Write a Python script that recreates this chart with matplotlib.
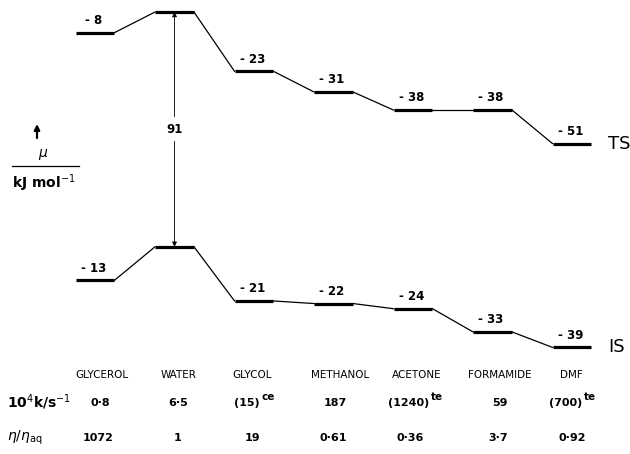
import matplotlib
matplotlib.use("Agg")
import matplotlib.pyplot as plt
import numpy as np

solvents = ["GLYCEROL", "WATER", "GLYCOL", "METHANOL", "ACETONE", "FORMAMIDE", "DMF"]
ts_values = [-8, 0, -23, -31, -38, -38, -51]      # kJ/mol relative to water TS
is_values = [-13, 0, -21, -22, -24, -33, -39]     # kJ/mol relative to water IS
is_offset = -91                                   # water IS below water TS
rate_labels = ["0·8", "6·5", "(15)^ce", "187", "(1240)^te", "59", "(700)^te"]
visc_labels = ["1072", "1", "19", "0·61", "0·36", "3·7", "0·92"]

W, H = 630, 454
fig = plt.figure(figsize=(W / 100, H / 100), dpi=100)
ax = fig.add_axes([0, 0, 1, 1])
ax.set_axis_off()

px_per_unit = 79.5
px_per_kj = 2.58
x0_px, y0_px = 95, 12
ax.set_xlim(-x0_px / px_per_unit, (W - x0_px) / px_per_unit)
ax.set_ylim(-(H - y0_px) / px_per_kj, y0_px / px_per_kj)

hw = 0.245
plt.rcParams["font.family"] = ["DejaVu Sans"]
plt.rcParams["mathtext.fontset"] = "dejavusans"


def draw_profile(vals, offset, label):
    xs = np.arange(len(vals))
    ys = np.array(vals, dtype=float) + offset
    for i, (x, y) in enumerate(zip(xs, ys)):
        ax.plot([x - hw, x + hw], [y, y], color="black", lw=2.3, solid_capstyle="butt")
        if i > 0:
            ax.plot([xs[i - 1] + hw, x - hw], [ys[i - 1], y], color="black", lw=0.9)
        if solvents[i] != "WATER":
            ax.annotate(f"- {abs(vals[i])}", (x, y), xytext=(-1, 4), textcoords="offset points",
                        ha="center", va="bottom", fontsize=8.5, fontweight="bold")
    ax.annotate(label, (xs[-1] + hw, ys[-1]), xytext=(12, 0), textcoords="offset points",
                ha="left", va="center", fontsize=13)


draw_profile(ts_values, 0, "TS")
draw_profile(is_values, is_offset, "IS")

# double arrow between water TS and IS
xw = solvents.index("WATER")
ax.annotate("", xy=(xw, is_offset + is_values[xw]), xytext=(xw, ts_values[xw]),
            arrowprops=dict(arrowstyle="<|-|>", lw=0.6, color="black", mutation_scale=7,
                            shrinkA=0, shrinkB=0))
ax.text(xw, (ts_values[xw] + is_offset + is_values[xw]) / 2, str(abs(is_offset)),
        ha="center", va="center", fontsize=8.5, fontweight="bold",
        bbox=dict(facecolor="white", edgecolor="none", pad=4))

tf = ax.transAxes
def fy(py):
    return 1 - py / H
def fx(px):
    return px / W

# left axis label
ax.annotate("", xy=(fx(37), fy(124)), xytext=(fx(37), fy(138)), xycoords=tf, textcoords=tf,
            arrowprops=dict(arrowstyle="-|>", lw=1.6, color="black", mutation_scale=8,
                            shrinkA=0, shrinkB=0))
ax.text(fx(43), fy(155), r"$\mu$", transform=tf, ha="center", va="center", fontsize=10)
ax.plot([fx(12), fx(79)], [fy(166), fy(166)], transform=tf, color="black", lw=0.9)
ax.text(fx(44), fy(183), r"kJ mol$^{-1}$", transform=tf, ha="center", va="center",
        fontsize=10, fontweight="bold")

xt = ax.get_xaxis_transform()
def col_x(i, px):
    return i + (px - (x0_px + i * px_per_unit)) / px_per_unit

def put(i, px, py, lab):
    if "^" in lab:
        base, sup = lab.split("^")
        t = ax.text(col_x(i, px - 6), fy(py), base, transform=xt, ha="center", va="center",
                    fontsize=8, fontweight="bold")
        ax.annotate(sup, xy=(1, 0.55), xycoords=t, xytext=(1, 0),
                    textcoords="offset points", ha="left", va="bottom", fontsize=7.5,
                    fontweight="bold")
    else:
        ax.text(col_x(i, px), fy(py), lab, transform=xt, ha="center", va="center",
                fontsize=8, fontweight="bold")

# table
name_x = [102, 179, 252, 340, 417, 500, 571]
for i, name in enumerate(solvents):
    ax.text(col_x(i, name_x[i]), fy(375), name, transform=xt, ha="center", va="center",
            fontsize=7.5)
rate_x = [100, 178, 253, 335, 415, 500, 572]
for i, lab in enumerate(rate_labels):
    put(i, rate_x[i], 403, lab)
visc_x = [98, 178, 252, 333, 410, 498, 572]
for i, lab in enumerate(visc_labels):
    put(i, visc_x[i], 438, lab)

ax.text(fx(7), fy(402), r"10$^4$k/s$^{-1}$", transform=tf, ha="left", va="center",
        fontsize=10, fontweight="bold")
ax.text(fx(7), fy(438), r"$\eta/\eta_{\rm aq}$", transform=tf, ha="left", va="center",
        fontsize=10)

fig.savefig("out.png", dpi=100)
